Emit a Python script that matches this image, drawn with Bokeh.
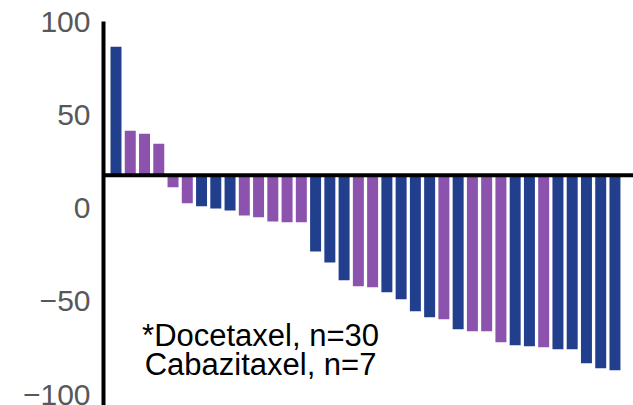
from bokeh.plotting import figure
from bokeh.models import Span, FixedTicker, Label, ColumnDataSource, Range1d
from bokeh.embed import file_html
from bokeh.resources import INLINE

# Best change per patient, sorted from largest rise to deepest fall
patients = list(range(36))
best_change = [86.6, 41.6, 39.9, 34.6, 11.2, 2.6, 1.0, -0.1, -1.2, -3.9,
               -4.9, -7.1, -7.6, -7.6, -23.2, -29.1, -38.7, -41.9, -42.5, -45.1,
               -48.9, -55.3, -58.6, -59.6, -65.0, -66.1, -66.1, -72.0, -73.6, -74.1,
               -74.6, -75.7, -75.7, -83.2, -85.9, -87.0]
arm = ["D", "C", "C", "C", "C", "C", "D", "D", "D", "C",
       "C", "C", "C", "C", "D", "D", "D", "C", "C", "D",
       "D", "D", "D", "C", "D", "C", "C", "C", "D", "D",
       "C", "D", "D", "D", "D", "D"]
baseline = 17.7
tick_values = [-100, -50, 0, 50, 100]
tick_labels = ["\u2212100", "\u221250", "0", "50", "100"]
legend_lines = ["*Docetaxel, n=30", "Cabazitaxel, n=7"]

arm_colors = {"D": "#223F8E", "C": "#8B52AE"}

src = ColumnDataSource(dict(
    x=patients,
    top=best_change,
    bottom=[baseline] * len(patients),
    color=[arm_colors[a] for a in arm],
))

p = figure(width=633, height=405, output_backend="svg", toolbar_location=None,
           x_range=Range1d(-0.877, 36.30), y_range=Range1d(-105.9, 100.2),
           min_border_left=103, min_border_right=0, min_border_top=21,
           min_border_bottom=0)
p.background_fill_color = "white"
p.border_fill_color = "white"
p.outline_line_color = None
p.grid.visible = False
p.xaxis.visible = False

p.vbar(x="x", top="top", bottom="bottom", width=0.77, color="color",
       line_color=None, source=src)

p.add_layout(Span(location=baseline, dimension="width", line_color="black",
                  line_width=4))

ya = p.yaxis[0]
ya.ticker = FixedTicker(ticks=tick_values)
ya.major_label_overrides = {v: s for v, s in zip(tick_values, tick_labels)}
ya.axis_line_color = "black"
ya.axis_line_width = 4
ya.major_tick_line_color = None
ya.minor_tick_line_color = None
ya.major_tick_out = 0
ya.major_tick_in = 0
ya.major_label_standoff = 13
ya.major_label_text_font = "Liberation Sans"
ya.major_label_text_font_size = "30px"
ya.major_label_text_color = "#585858"

for txt, yv in zip(legend_lines, [-68.4, -84.0]):
    p.add_layout(Label(x=10.14, y=yv, text=txt, text_align="center",
                       text_baseline="alphabetic", text_font="Liberation Sans",
                       text_font_size="31px", text_color="black"))

open("out.html", "w").write(file_html(p, INLINE))
